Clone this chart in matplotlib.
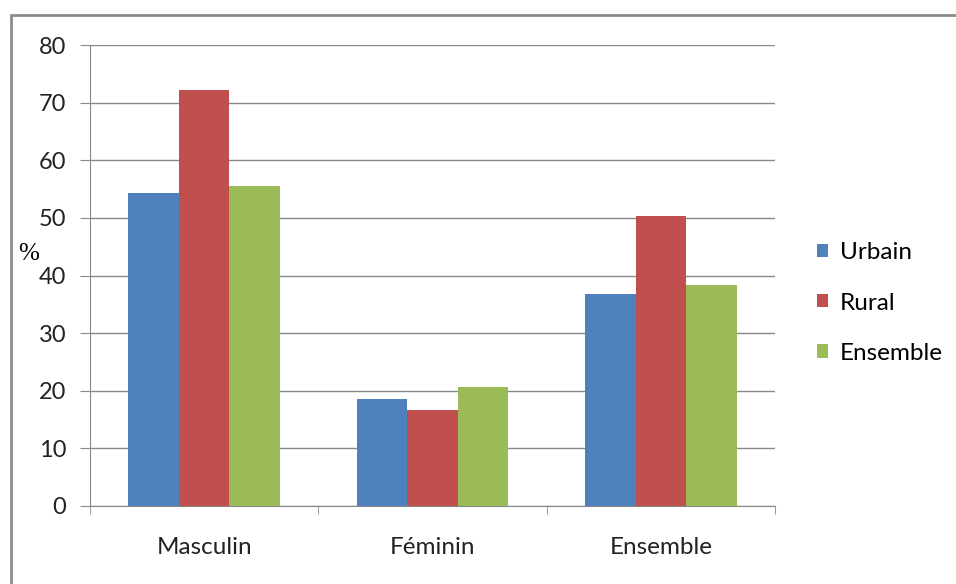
import numpy as np
import matplotlib
matplotlib.use("Agg")
import matplotlib.pyplot as plt
from matplotlib.patches import Rectangle

# données (%)
categories = ["Masculin", "Féminin", "Ensemble"]
series = ["Urbain", "Rural", "Ensemble"]
urbain = [54.4, 18.6, 36.8]
rural = [72.2, 16.6, 50.3]
ensemble = [55.5, 20.6, 38.4]
colors = ["#4F81BD", "#C0504D", "#9BBB59"]

plt.rcParams["font.family"] = ["Lato", "DejaVu Sans"]

fig = plt.figure(figsize=(9.56, 5.84), dpi=100)
ax = fig.add_axes([90/956, 1-506/584, (775-90)/956, (506-45)/584])

x = np.arange(len(categories))
w = 0.221
for k, (vals, name) in enumerate(zip([urbain, rural, ensemble], series)):
    ax.bar(x + (k-1)*w, vals, w, color=colors[k], label=name, zorder=3)

ax.set_xlim(-0.5, 2.5)
ax.set_ylim(0, 80)
ax.set_yticks(range(0, 81, 10))
ax.set_xticks(x)
ax.set_xticklabels(categories, fontsize=17.5, color="#222222")
ax.tick_params(axis="x", length=0, pad=22)
ax.set_xticks([-0.5, 0.5, 1.5, 2.5], minor=True)
ax.tick_params(axis="x", which="minor", length=6, color="#888888", direction="out")
ax.tick_params(axis="y", length=7, color="#888888", labelsize=17, labelcolor="#222222", pad=10)
ax.grid(axis="y", color="#888888", linewidth=1, zorder=0)
for s in ["top", "right"]:
    ax.spines[s].set_visible(False)
for s in ["left", "bottom"]:
    ax.spines[s].set_color("#888888")

fig.text(29/956, 1-254/584, "%", family="Liberation Serif", fontsize=18,
         ha="center", va="center")

ax.legend(loc="center left", bbox_to_anchor=(817/956, 1-303/584),
          bbox_transform=fig.transFigure, frameon=False, fontsize=17.5,
          handlelength=0.45, handleheight=0.45, handletextpad=0.5,
          labelspacing=1.2, borderaxespad=0, borderpad=0)

# cadre du graphique
fig.patches.append(Rectangle((11/956, -0.1), 1.2, 1-15/584+0.1,
                             transform=fig.transFigure, fill=False,
                             edgecolor="#8c8c8c", linewidth=2))

fig.savefig("out.png", dpi=100)
